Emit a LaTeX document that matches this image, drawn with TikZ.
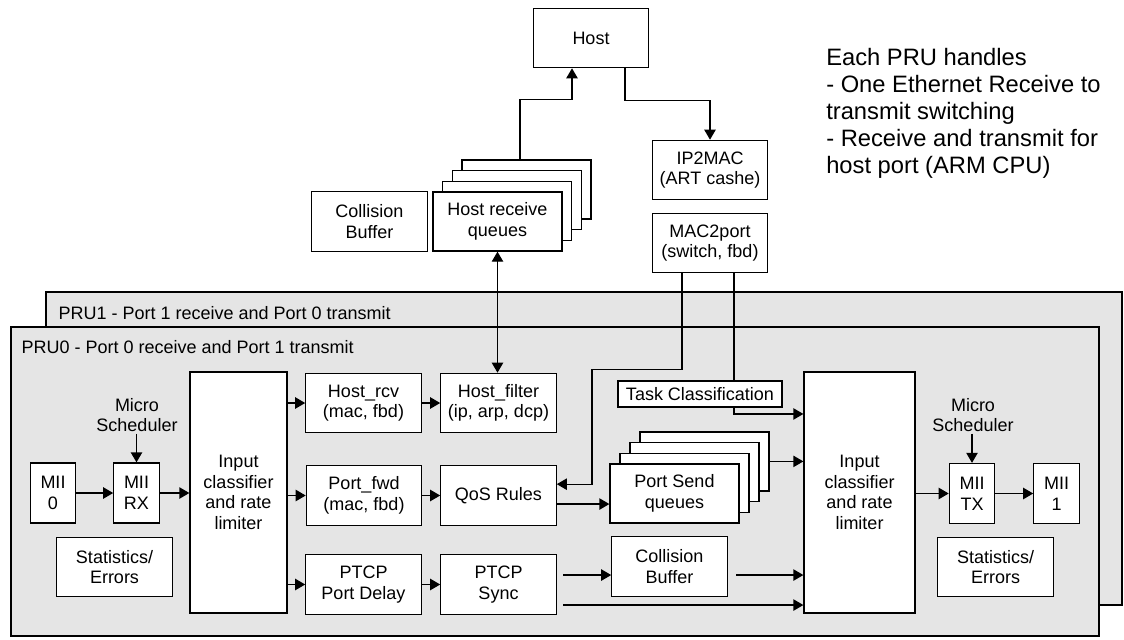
\documentclass[tikz,border=0pt]{standalone}
\usepackage{fontspec}
\setmainfont{Liberation Sans}
\usepackage{tikz}
\usetikzlibrary{arrows.meta}

\begin{document}
\begin{tikzpicture}[x=0.75pt, y=-0.75pt,
  box/.style={draw, fill=white, line width=0.95pt, align=center, inner sep=0pt, font=\fontsize{13.5}{15.5}\selectfont},
  wide/.style={box, minimum width=86.5pt, minimum height=44.5pt},
  slim/.style={box, minimum width=34pt, minimum height=45pt},
  queue/.style={box, minimum width=96.75pt, minimum height=44.25pt},
  tall/.style={box, minimum height=180.75pt},
  plain/.style={align=center, inner sep=1pt, font=\fontsize{13.5}{15.5}\selectfont},
  panel/.style={draw, fill=black!10, line width=0.95pt},
  arr/.style={line width=0.95pt, -{Triangle[length=7.5pt, width=8.5pt]}},
  dbl/.style={line width=0.95pt, {Triangle[length=7.5pt, width=8.5pt]}-{Triangle[length=7.5pt, width=8.5pt]}}]
\useasboundingbox (0,0) rectangle (1124,639);
\path (591,38) node (host) [wide] {Host};
\path (710,170) node (ip) [wide] {IP2MAC\\(ART cashe)};
\path (710,243) node (mac) [wide] {MAC2port\\(switch, fbd)};
\path (369.5,221.5) node (colltop) [wide] {Collision\\Buffer};
\path (526.6,189.6) node (hq3) [queue] {};
\path (516.9,200.3) node (hq2) [queue] {};
\path (507.2,211) node (hq1) [queue] {};
\path (497.5,221.5) node (hq0) [queue] {Host receive\\queues};
\path (826,48) node (note) [anchor=north west, align=left, inner sep=0pt, font=\fontsize{17.8}{20.2}\selectfont] {Each PRU handles\\- One Ethernet Receive to\\transmit switching\\- Receive and transmit for\\host port (ARM CPU)};
\draw[arr] ([xshift=-5pt]hq3.north) -- ++(0,-60) -| ([xshift=-14.25pt]host.south);
\draw[arr] ([xshift=25.5pt]host.south) -- ++(0,32) -| (ip.north);

\draw[panel] (46,292) rectangle (1122,605);
\path (57,313) node (lab1) [plain, anchor=west] {PRU1 - Port 1 receive and Port 0 transmit};
\draw[panel] (11,327) rectangle (1099,636);
\path (20,347) node (lab0) [plain, anchor=west] {PRU0 - Port 0 receive and Port 1 transmit};

\path (53,493) node (mii0) [slim] {MII\\0};
\path (136.5,493) node (mrx) [slim] {MII\\RX};
\path (137,415) node (ms1) [plain] {Micro\\Scheduler};
\path (238.5,492.5) node (in1) [tall, minimum width=72.75pt] {Input\\classifier\\and rate\\limiter};
\path (114.5,567) node (st1) [wide] {Statistics/\\Errors};
\path (363.5,403) node (hrcv) [wide] {Host\_rcv\\(mac, fbd)};
\path (498.5,403) node (hflt) [wide] {Host\_filter\\(ip, arp, dcp)};
\path (364,495.5) node (pfwd) [wide] {Port\_fwd\\(mac, fbd)};
\path (498.5,495.5) node (qos) [wide] {QoS Rules};
\path (363.5,584.5) node (pdel) [wide] {PTCP\\Port Delay};
\path (498.5,584.5) node (sync) [wide] {PTCP\\Sync};

\path (704.5,461.4) node (pq3) [queue] {};
\path (694.5,472.1) node (pq2) [queue] {};
\path (684.5,482.8) node (pq1) [queue] {};
\path (674.5,493.5) node (pq0) [queue] {Port Send\\queues};
\path (669.5,566.5) node (coll) [wide] {Collision\\Buffer};
\path (859.5,492.5) node (in2) [tall, minimum width=83.25pt] {Input\\classifier\\and rate\\limiter};
\path (972,493.5) node (mtx) [slim] {MII\\TX};
\path (1056.5,493.5) node (mii1) [slim] {MII\\1};
\path (973,415) node (ms2) [plain] {Micro\\Scheduler};
\path (995.5,567) node (st2) [wide] {Statistics/\\Errors};

\draw[dbl] (hflt.north -| hq0.south) -- (hq0.south);
\draw[arr] ([xshift=-21pt]mac.south) -- ++(0,96) -- ++(-90,0) |- ([yshift=8.5pt]qos.east);
\draw[arr] ([xshift=18pt]mac.south) |- ([yshift=58.9pt]in2.west);
\path (700,394) node (task) [box, minimum width=123pt, minimum height=19.5pt] {Task Classification};

\draw[arr] (mii0) -- (mrx);
\draw[arr] (mrx.east) -- (mrx.east -| in1.west);
\draw[arr] (mrx.north |- ms1.south) -- (mrx.north);
\draw[arr] (in1.east |- hrcv.west) -- (hrcv.west);
\draw[arr] (in1.east |- pfwd.west) -- (pfwd.west);
\draw[arr] (in1.east |- pdel.west) -- (pdel.west);
\draw[arr] (hrcv) -- (hflt);
\draw[arr] (pfwd) -- (qos);
\draw[arr] (pdel) -- (sync);
\draw[arr] ([yshift=-6.4pt]qos.east) -- ([yshift=-7.9pt]pq0.west);
\draw[arr] (pq3.east) -- (pq3.east -| in2.west);
\draw[arr] ([xshift=5pt,yshift=7.1pt]sync.east) -- ([yshift=-6.4pt]coll.west);
\draw[arr] ([xshift=6.4pt,yshift=-6.4pt]coll.east) -- ([yshift=-61.9pt]in2.west);
\draw[arr] ([xshift=5pt,yshift=-15.4pt]sync.east) -- ([yshift=-84.4pt]in2.west);
\draw[arr] (in2.east |- mtx.west) -- (mtx.west);
\draw[arr] (mtx) -- (mii1);
\draw[arr] (mtx.north |- ms2.south) -- (mtx.north);
\end{tikzpicture}
\end{document}
